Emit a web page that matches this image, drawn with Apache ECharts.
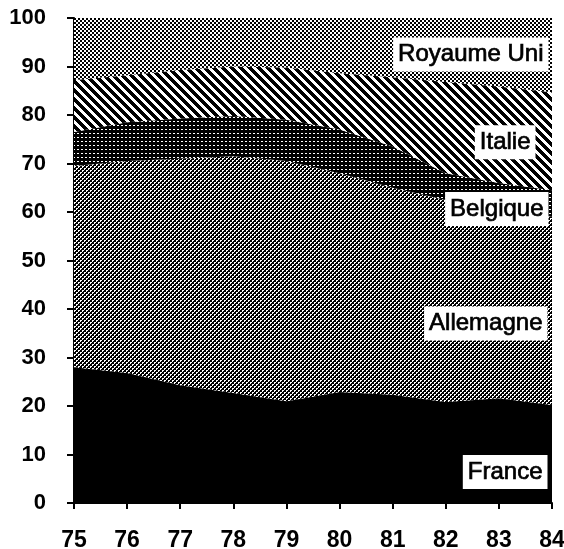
<!DOCTYPE html>
<html><head><meta charset="utf-8">
<script src="https://cdn.jsdelivr.net/npm/echarts@6/dist/echarts.min.js"></script>
<style>html,body{margin:0;padding:0;background:#fff}#c{width:564px;height:549px}</style>
</head><body><div id="c"></div>
<script>
// ---- data ----
const years = ['75','76','77','78','79','80','81','82','83','84'];
const france     = [28.0, 26.8, 24.3, 22.7, 21.0, 22.9, 22.3, 20.8, 21.6, 20.2];
const allemagne  = [41.5, 43.7, 46.7, 48.8, 49.5, 45.1, 42.7, 41.7, 38.9, 38.8];
const belgique   = [ 7.0,  8.0,  8.3,  8.3,  8.5,  9.0,  8.5,  5.5,  5.5,  5.5];
const italie     = [10.7,  9.7, 10.0, 10.2, 10.8, 11.6, 14.3, 18.8, 19.9, 20.2];
const royaumeUni = [12.8, 11.8, 10.7, 10.0, 10.2, 11.4, 12.2, 13.2, 14.1, 15.3];
const seriesNames = ['France', 'Allemagne', 'Belgique', 'Italie', 'Royaume Uni'];
const yMin = 0, yMax = 100, yStep = 10;

// ---- patterns ----
function makePattern(w, h, isBlack) {
  const c = document.createElement('canvas');
  c.width = w; c.height = h;
  const ctx = c.getContext('2d');
  const img = ctx.createImageData(w, h);
  for (let y = 0; y < h; y++) for (let x = 0; x < w; x++) {
    const v = isBlack(x, y) ? 0 : 255;
    const i = (y * w + x) * 4;
    img.data[i] = v; img.data[i+1] = v; img.data[i+2] = v; img.data[i+3] = 255;
  }
  ctx.putImageData(img, 0, 0);
  return { image: c, repeat: 'repeat' };
}
const patAllemagne = makePattern(4, 4, (x, y) => {
  const a = (x < 2 && y < 2) && !(x === 1 && y === 1);
  const b = (x >= 2 && y >= 2) && !(x === 3 && y === 3);
  return !(a || b);
});
const patBelgique = makePattern(4, 4, (x, y) => !(y === 1 && (x === 1 || x === 2)));
const patItalie = makePattern(9, 9, (x, y) => ((x - y + 18) % 9) < 5);
const patRU = makePattern(4, 4, (x, y) => ((x >> 1) + (y >> 1)) % 2 === 0);

const fills = ['#000', patAllemagne, patBelgique, patItalie, patRU];
const values = [france, allemagne, belgique, italie, royaumeUni];
const labelY = [6.4, 37, 60.6, 74.4, 92.5];
const labelDist = [4, 4, 3, 16, 3];

const chart = echarts.init(document.getElementById('c'), null, { renderer: 'canvas' });
chart.setOption({
  animation: false,
  backgroundColor: '#fff',
  grid: { left: 74, right: 12, top: 18, bottom: 46, containLabel: false, outerBoundsMode: 'none' },
  xAxis: {
    type: 'category', data: years, boundaryGap: false,
    axisLine: { lineStyle: { color: '#000', width: 2 } },
    axisTick: { show: true, length: 6, lineStyle: { color: '#000', width: 2 } },
    axisLabel: { color: '#000', fontSize: 23, fontWeight: 'bold', fontFamily: 'Liberation Sans', margin: 26 },
    splitLine: { show: false }
  },
  yAxis: {
    type: 'value', min: yMin, max: yMax, interval: yStep,
    axisLine: { show: true, lineStyle: { color: '#000', width: 2 } },
    axisTick: { show: true, length: 7, lineStyle: { color: '#000', width: 2 } },
    axisLabel: { color: '#000', fontSize: 22, fontWeight: 'bold', fontFamily: 'Liberation Sans', margin: 28 },
    splitLine: { show: false }
  },
  series: seriesNames.map((name, k) => ({
    name, type: 'line', stack: 'total', data: values[k],
    symbol: 'none', smooth: false,
    lineStyle: { width: 0 },
    areaStyle: { color: fills[k], opacity: 1 },
    z: 2,
    markPoint: {
      symbol: 'rect', symbolSize: 1,
      itemStyle: { color: 'rgba(0,0,0,0)' },
      label: {
        show: true, position: 'left', distance: labelDist[k],
        formatter: name, color: '#000', fontSize: 24, fontFamily: 'Liberation Sans',
        textBorderColor: '#000', textBorderWidth: 0.7,
        backgroundColor: '#fff', padding: [5, 5, 4, 5], lineHeight: 25
      },
      data: [{ name, coord: [years.length - 1, labelY[k]] }]
    }
  }))
});
</script></body></html>
